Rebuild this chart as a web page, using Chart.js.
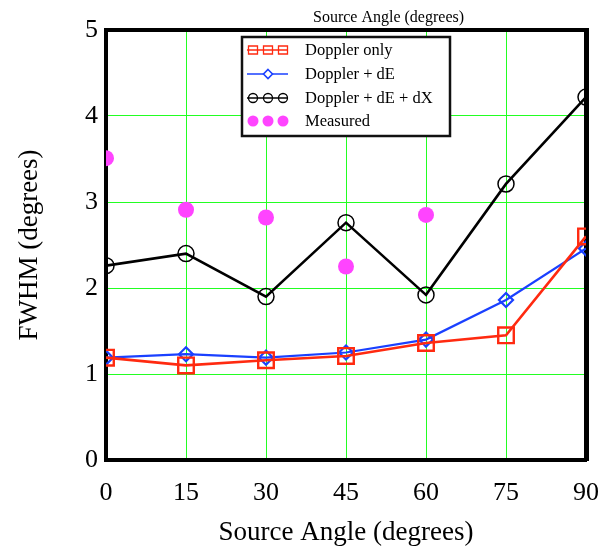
<!DOCTYPE html>
<html>
<head>
<meta charset="UTF-8">
<title>FWHM vs Source Angle</title>
<script src="https://cdn.jsdelivr.net/npm/chart.js"></script>
<style>
  html, body { margin: 0; padding: 0; background: #fff; }
  #wrap { width: 611px; height: 549px; }
</style>
</head>
<body>
<div id="wrap"><canvas id="fwhm"></canvas></div>
<script>
// data
const angles = [0, 15, 30, 45, 60, 75, 90];
const dopplerOnly = [1.19, 1.10, 1.16, 1.21, 1.36, 1.45, 2.60];
const dopplerDE = [1.19, 1.23, 1.19, 1.25, 1.40, 1.86, 2.46];
const dopplerDEdX = [2.26, 2.40, 1.90, 2.76, 1.92, 3.21, 4.22];
const measuredAngles = [0, 15, 30, 45, 60];
const measured = [3.51, 2.91, 2.82, 2.25, 2.85];
const legendLabels = ['Doppler only', 'Doppler + dE', 'Doppler + dE + dX', 'Measured'];

const serif = "'Liberation Serif', 'Times New Roman', serif";
const green = '#22ff22';

function pts(xs, ys) {
  return xs.map((x, i) => ({ x: x, y: ys[i] }));
}

// legend box + small top title
const extras = {
  id: 'extras',
  afterDraw(chart) {
    const ctx = chart.ctx;
    ctx.save();
    ctx.fillStyle = '#000';
    ctx.font = '16px ' + serif;
    ctx.textBaseline = 'middle';
    ctx.textAlign = 'left';
    ctx.fillText('Source Angle (degrees)', 313, 18);

    const bx = 242, by = 37, bw = 208, bh = 99;
    ctx.fillStyle = '#fff';
    ctx.fillRect(bx, by, bw, bh);
    ctx.strokeStyle = '#111';
    ctx.lineWidth = 2.5;
    ctx.strokeRect(bx, by, bw, bh);

    const rows = [50, 74, 98, 121];
    chart.data.datasets.forEach((ds, i) => {
      const y = rows[i];
      ctx.strokeStyle = ds.borderColor;
      ctx.lineWidth = 1.3;
      if (ds.showLine !== false) {
        ctx.beginPath();
        ctx.moveTo(247, y);
        ctx.lineTo(288, y);
        ctx.stroke();
      }
      const marks = i === 1 ? [268] : [253, 268, 283];
      marks.forEach(mx => {
        ctx.beginPath();
        if (ds.pointStyle === 'rect') {
          ctx.rect(mx - 4.5, y - 4, 9, 8);
          ctx.stroke();
        } else if (ds.pointStyle === 'rectRot') {
          ctx.moveTo(mx, y - 4.5); ctx.lineTo(mx + 4.5, y);
          ctx.lineTo(mx, y + 4.5); ctx.lineTo(mx - 4.5, y);
          ctx.closePath();
          ctx.fillStyle = '#fff';
          ctx.fill();
          ctx.lineWidth = 1.6;
          ctx.stroke();
        } else if (ds.showLine === false) {
          ctx.arc(mx, y, 5.5, 0, Math.PI * 2);
          ctx.fillStyle = ds.pointBackgroundColor;
          ctx.fill();
        } else {
          ctx.arc(mx, y, 4.5, 0, Math.PI * 2);
          ctx.stroke();
        }
      });
      ctx.fillStyle = '#000';
      ctx.font = '16.5px ' + serif;
      ctx.fillText(legendLabels[i], 305, y + 1);
    });
    ctx.restore();
  }
};

new Chart(document.getElementById('fwhm'), {
  type: 'line',
  data: {
    datasets: [{
      label: legendLabels[0],
      data: pts(angles, dopplerOnly),
      borderColor: '#ff2a10',
      borderWidth: 2.6,
      pointStyle: 'rect',
      pointRadius: 11,
      pointBorderWidth: 2.4,
      pointBackgroundColor: 'rgba(0,0,0,0)',
      tension: 0,
      clip: 0
    }, {
      label: legendLabels[1],
      data: pts(angles, dopplerDE),
      borderColor: '#1a40ff',
      borderWidth: 2.2,
      pointStyle: 'rectRot',
      pointRadius: 7,
      pointBorderWidth: 2.2,
      pointBackgroundColor: 'rgba(0,0,0,0)',
      tension: 0,
      clip: 0
    }, {
      label: legendLabels[2],
      data: pts(angles, dopplerDEdX),
      borderColor: '#000',
      borderWidth: 2.6,
      pointStyle: 'circle',
      pointRadius: 8,
      pointBorderWidth: 1.5,
      pointBackgroundColor: 'rgba(0,0,0,0)',
      tension: 0,
      clip: 0
    }, {
      label: legendLabels[3],
      data: pts(measuredAngles, measured),
      showLine: false,
      borderColor: '#ff44ff',
      pointStyle: 'circle',
      pointRadius: 8,
      pointBorderWidth: 0,
      pointBackgroundColor: '#ff44ff',
      clip: 0
    }]
  },
  options: {
    responsive: true,
    maintainAspectRatio: false,
    animation: false,
    layout: { padding: 0 },
    plugins: { legend: { display: false }, tooltip: { enabled: false } },
    scales: {
      x: {
        type: 'linear', position: 'bottom', min: 0, max: 90,
        afterFit(s) { s.height = 89; s.paddingLeft = 0; s.paddingRight = 0; },
        ticks: { stepSize: 15, color: '#000', padding: 18, font: { family: serif, size: 26 } },
        grid: { color: green, lineWidth: 1, drawTicks: false },
        border: { color: '#000', width: 4 },
        title: { display: true, text: 'Source Angle (degrees)', color: '#000', padding: { top: 0, bottom: 0 }, font: { family: serif, size: 27 } }
      },
      x2: {
        type: 'linear', position: 'top', min: 0, max: 90,
        afterFit(s) { s.height = 30; s.paddingLeft = 0; s.paddingRight = 0; },
        ticks: { display: false },
        grid: { display: false },
        border: { color: '#000', width: 4 }
      },
      y: {
        min: 0, max: 5,
        afterFit(s) { s.width = 106; s.paddingTop = 0; s.paddingBottom = 0; },
        ticks: { stepSize: 1, color: '#000', padding: 8, font: { family: serif, size: 26 } },
        grid: { color: green, lineWidth: 1, drawTicks: false },
        border: { color: '#000', width: 4 },
        title: { display: true, text: 'FWHM (degrees)', color: '#000', padding: { top: 14, bottom: 0 }, font: { family: serif, size: 27 } }
      },
      y2: {
        position: 'right', min: 0, max: 5,
        afterFit(s) { s.width = 25; s.paddingTop = 0; s.paddingBottom = 0; },
        ticks: { display: false },
        grid: { display: false },
        border: { color: '#000', width: 5 }
      }
    }
  },
  plugins: [extras]
});
</script>
</body>
</html>
